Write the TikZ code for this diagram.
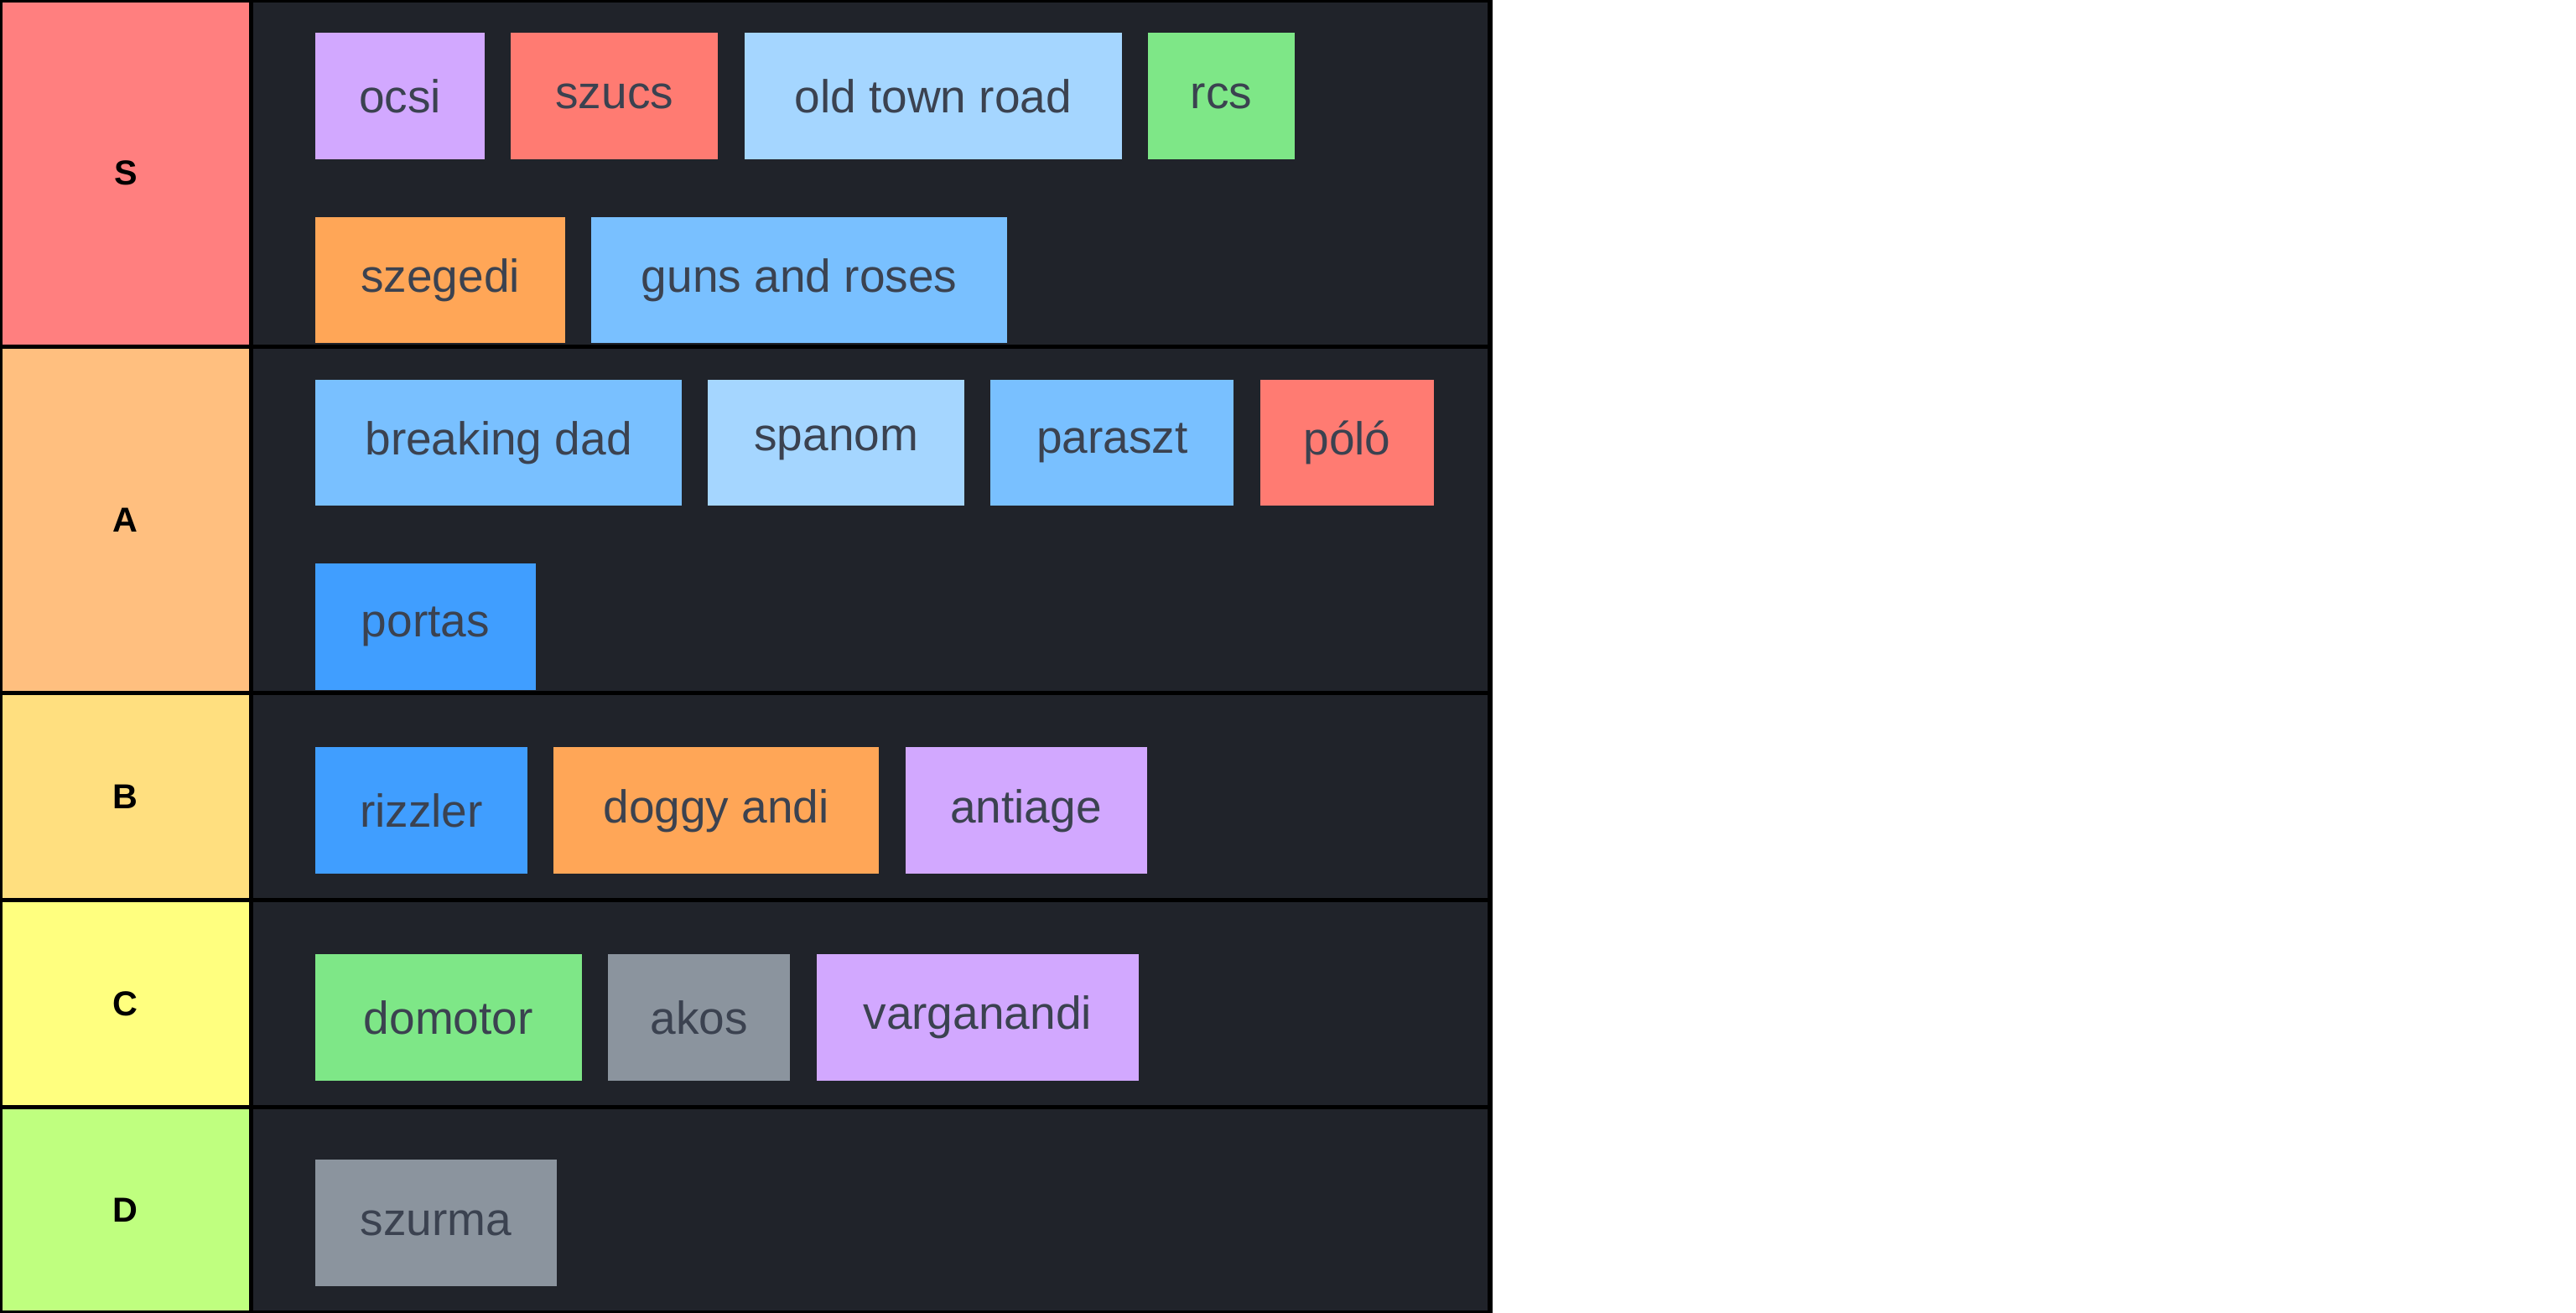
\documentclass[tikz,border=0pt]{standalone}
\usepackage{fontspec}
\setmainfont{Liberation Sans}
\usetikzlibrary{positioning}
\definecolor{board}{HTML}{20232A}
\definecolor{ink}{HTML}{3B4250}
\definecolor{purp}{HTML}{D2A8FF}
\definecolor{redd}{HTML}{FF7B72}
\definecolor{lblue}{HTML}{A5D6FF}
\definecolor{mblue}{HTML}{79C0FF}
\definecolor{dblue}{HTML}{409EFF}
\definecolor{gren}{HTML}{7EE787}
\definecolor{orng}{HTML}{FFA657}
\definecolor{gray}{HTML}{8B949E}
\definecolor{tierS}{HTML}{FF7F7F}
\definecolor{tierA}{HTML}{FFBF7F}
\definecolor{tierB}{HTML}{FFDF7F}
\definecolor{tierC}{HTML}{FFFF7F}
\definecolor{tierD}{HTML}{BFFF7F}
\newcommand{\tile}[6]{\node[tile,fill=#5,minimum width={(#3-#2)*0.02cm}] (#1) at ({(#2+#3)/2},#4+38.5) {#6};}
\newcommand{\tier}[5]{%
  \fill[board] (153,#2) rectangle (907,#3);
  \node[tierbox,fill=#4,minimum height={(#3-#2)*0.02cm}] (#1) at (76.5,{(#2+#3)/2}) {#5};
  \draw[line width=1.5pt] (0,#2) rectangle (907,#3) (153,#2) -- (153,#3);}
\begin{document}
\begin{tikzpicture}[x=0.02cm,y=-0.02cm,
  tile/.style={rectangle,inner sep=0pt,minimum height=1.54cm,text=ink,font=\fontsize{16}{16}\selectfont},
  tierbox/.style={rectangle,inner sep=0pt,minimum width=3.06cm,font=\bfseries\fontsize{12}{12}\selectfont}]
  \useasboundingbox (0,0) rectangle (1568,799);
  \fill[white] (0,0) rectangle (1568,799);
  \tier{S}{0}{211}{tierS}{S}
  \tier{A}{211}{422}{tierA}{A}
  \tier{B}{422}{548}{tierB}{B}
  \tier{C}{548}{674}{tierC}{C}
  \tier{D}{674}{799}{tierD}{D}
  % S
  \tile{ocsi}{192}{295}{20}{purp}{ocsi}
  \tile{szucs}{311}{437}{20}{redd}{szucs}
  \tile{otr}{453}{683}{20}{lblue}{old town road}
  \tile{rcs}{699}{788}{20}{gren}{rcs}
  \tile{szegedi}{192}{344}{132}{orng}{szegedi}
  \tile{gnr}{360}{613}{132}{mblue}{guns and roses}
  % A
  \tile{bdad}{192}{415}{231}{mblue}{breaking dad}
  \tile{spanom}{431}{587}{231}{lblue}{spanom}
  \tile{paraszt}{603}{751}{231}{mblue}{paraszt}
  \tile{polo}{767}{873}{231}{redd}{póló}
  \tile{portas}{192}{326}{343}{dblue}{portas}
  % B
  \tile{rizzler}{192}{321}{455}{dblue}{rizzler}
  \tile{doggy}{337}{535}{455}{orng}{doggy andi}
  \tile{antiage}{551}{698}{455}{purp}{antiage}
  % C
  \tile{domotor}{192}{354}{581}{gren}{domotor}
  \tile{akos}{370}{481}{581}{gray}{akos}
  \tile{varga}{497}{693}{581}{purp}{varganandi}
  % D
  \tile{szurma}{192}{339}{706}{gray}{szurma}
\end{tikzpicture}
\end{document}
